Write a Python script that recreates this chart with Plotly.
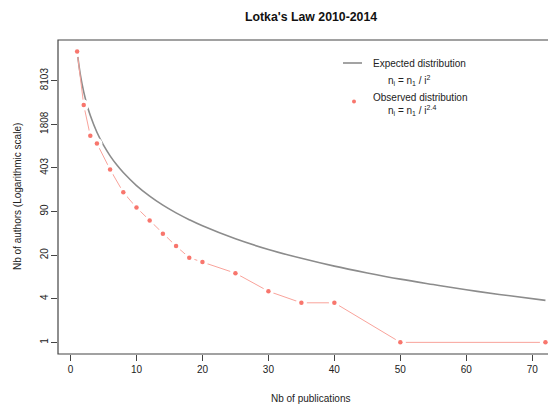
import plotly.graph_objects as go

# Observed distribution (Nb of publications -> Nb of authors)
obs_x = [1, 2, 3, 4, 6, 8, 10, 12, 14, 16, 18, 20, 25, 30, 35, 40, 50, 72]
obs_y = [22000, 3500, 1215, 935, 381, 174, 103, 66, 42, 27.4, 18.4, 15.8, 10.8, 5.8, 3.9, 3.9, 1, 1]

# Expected distribution
exp_x = [1, 1.5, 2, 2.5, 3, 4, 5, 6, 7, 8, 10, 12, 14, 16, 18, 20, 25, 30, 35, 40, 45, 50, 55, 60, 65, 72]
exp_y = [22000, 9778, 5500, 3520, 2444, 1375, 880, 611, 449, 344, 220, 153, 112, 86, 68, 55,
         35.2, 24.4, 18.0, 13.75, 10.9, 8.8, 7.3, 6.1, 5.2, 4.24]

# Axis ticks
x_ticks = [0, 10, 20, 30, 40, 50, 60, 70]
y_tickvals = [1, 4.4817, 20.0855, 90.0171, 403.4288, 1808.042, 8103.084]
y_ticktext = ["1", "4", "20", "90", "403", "1808", "8103"]

FONT = "Liberation Sans, Arial, sans-serif"
GREY = "#8c8c8c"
SALMON = "#f8766d"
SALMON_LINE = "#f9a39b"

fig = go.Figure()
fig.add_trace(go.Scatter(x=exp_x, y=exp_y, mode="lines",
                         line=dict(color=GREY, width=1.6, shape="spline"),
                         hoverinfo="skip", showlegend=False))
fig.add_trace(go.Scatter(x=obs_x, y=obs_y, mode="lines",
                         line=dict(color=SALMON_LINE, width=1),
                         hoverinfo="skip", showlegend=False))
fig.add_trace(go.Scatter(x=obs_x, y=obs_y, mode="markers",
                         marker=dict(color="white", size=11, line=dict(width=0)),
                         hoverinfo="skip", showlegend=False))
fig.add_trace(go.Scatter(x=obs_x, y=obs_y, mode="markers",
                         marker=dict(color=SALMON, size=4.5, line=dict(width=0)),
                         hoverinfo="skip", showlegend=False))

# The page body adds an 8px offset; the figure is sized/placed to compensate.
OFF = 8
PAGE_W, PAGE_H = 556, 410
W, H = PAGE_W - OFF, PAGE_H - OFF
# plot area in page pixels: left 58.5, right 556, top 40, bottom 354
L = 58 - OFF
T = 40 - OFF
B = PAGE_H - 354
R = 0
pw, ph = W - L - R, H - T - B

def px(xp):
    return (xp - OFF - L) / pw

def py(yp):
    return (H - B - (yp - OFF)) / ph

fig.update_layout(
    width=W, height=H,
    margin=dict(l=L, r=R, t=T, b=B),
    paper_bgcolor="white", plot_bgcolor="white",
    font=dict(family=FONT, size=10, color="#222"),
    showlegend=False,
)
fig.update_xaxes(range=[-1.9, 73.6], tickvals=x_ticks, ticks="outside", ticklen=6, tickcolor="#444",
                 showgrid=False, zeroline=False, showline=False, tickfont=dict(size=10))
fig.update_yaxes(type="log", range=[-0.1737, 4.516], tickvals=y_tickvals, ticktext=y_ticktext,
                 ticks="outside", ticklen=6, tickcolor="#444", tickangle=-90, ticklabelstandoff=-1,
                 showgrid=False, zeroline=False, showline=False, tickfont=dict(size=10))

# plot box (right edge lies beyond the window, like the reference)
fig.add_shape(type="rect", xref="paper", yref="paper", x0=0, x1=1.05, y0=0, y1=1,
              line=dict(color="#444", width=1.2))

# title
fig.add_annotation(text="<b>Lotka's Law 2010-2014</b>", xref="paper", yref="paper", x=px(311), y=py(17),
                   showarrow=False, xanchor="center", yanchor="middle",
                   font=dict(size=12.3, color="#111"))
# axis titles
fig.add_annotation(text="Nb of publications", xref="paper", yref="paper", x=px(311), y=py(398),
                   showarrow=False, font=dict(size=10), xanchor="center", yanchor="middle")
fig.add_annotation(text="Nb of authors (Logarithmic scale)", xref="paper", yref="paper",
                   x=px(17), y=0.5, textangle=-90, showarrow=False, font=dict(size=10),
                   xanchor="center", yanchor="middle")

# legend
fig.add_shape(type="line", xref="paper", yref="paper", x0=px(343), x1=px(362), y0=py(63), y1=py(63),
              line=dict(color=GREY, width=1.6))
fig.add_shape(type="circle", xref="paper", yref="paper", x0=px(352), x1=px(356), y0=py(99.5), y1=py(103.5),
              fillcolor=SALMON, line=dict(width=0))
fig.add_annotation(text="Expected distribution", xref="paper", yref="paper", x=px(371), y=py(64),
                   showarrow=False, xanchor="left", yanchor="middle", font=dict(size=10))
fig.add_annotation(text="n<sub>i</sub> = n<sub>1</sub> / i<sup>2</sup>", xref="paper", yref="paper",
                   x=px(386), y=py(80), showarrow=False, xanchor="left", yanchor="middle",
                   font=dict(size=10))
fig.add_annotation(text="Observed distribution", xref="paper", yref="paper", x=px(371), y=py(98),
                   showarrow=False, xanchor="left", yanchor="middle", font=dict(size=10))
fig.add_annotation(text="n<sub>i</sub> = n<sub>1</sub> / i<sup>2.4</sup>", xref="paper", yref="paper",
                   x=px(386), y=py(111), showarrow=False, xanchor="left", yanchor="middle",
                   font=dict(size=10))

fig.write_html("out.html")
